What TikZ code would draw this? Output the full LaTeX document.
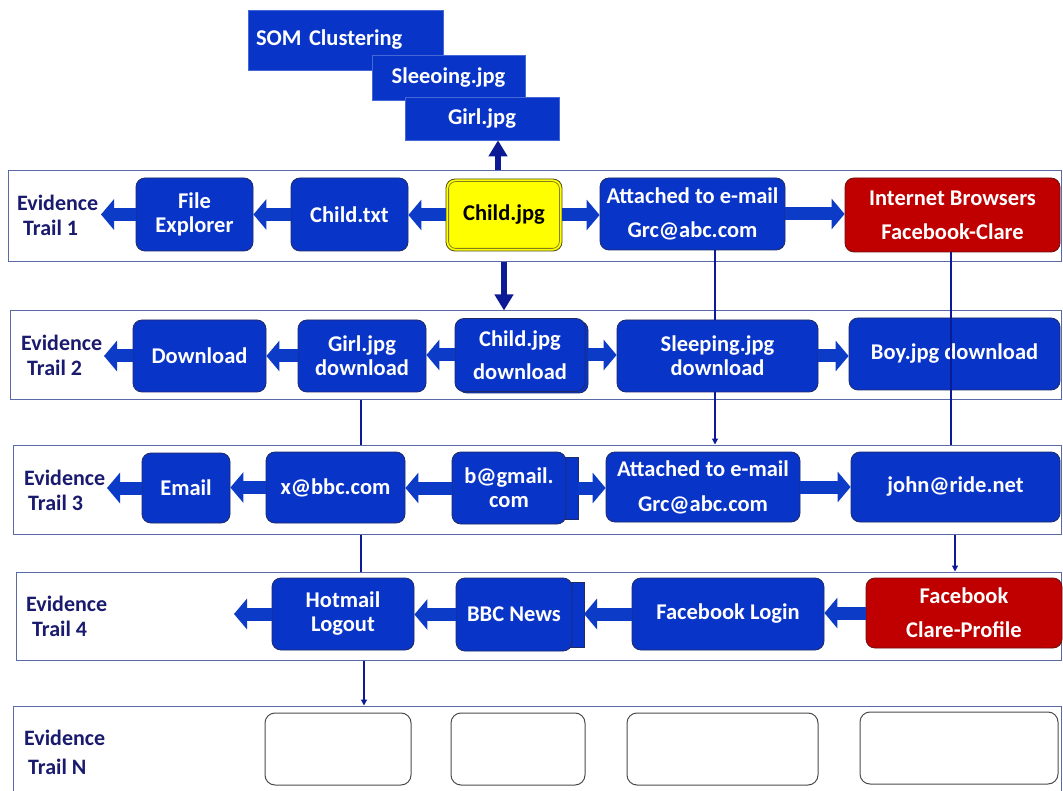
\documentclass[tikz,border=0pt]{standalone}
\usepackage{fontspec}
\setmainfont{Carlito}
\usetikzlibrary{arrows.meta}
\definecolor{boxblue}{HTML}{0934C8}
\definecolor{boxedge}{HTML}{1F2A66}
\definecolor{arrblue}{HTML}{0C3BC8}
\definecolor{navy}{HTML}{0D1A96}
\definecolor{bandedge}{HTML}{5A6AA8}
\definecolor{labnavy}{HTML}{1A1A6E}
\definecolor{boxred}{HTML}{C00000}
\definecolor{redge}{HTML}{6A1010}
\definecolor{jpgyellow}{HTML}{FFFF00}
\definecolor{jpgedge}{HTML}{4A4A20}
\tikzset{
 boxfont/.style={font=\bfseries\fontsize{22.5}{24}\selectfont},
 box/.style={draw=boxedge, line width=0.8pt, fill=boxblue, rounded corners=9pt, text=white, boxfont, align=center, inner sep=0pt},
 redbox/.style={box, fill=boxred, draw=redge},
 backbox/.style={draw=boxedge, line width=0.8pt, fill=boxblue},
 sqbox/.style={fill=boxblue, draw=boxblue!75!white, line width=0.6pt, text=white, boxfont, align=center, inner sep=0pt},
 band/.style={draw=bandedge, line width=1pt, fill=white, inner sep=0pt},
 lab/.style={text=labnavy, font=\bfseries\fontsize{22}{25}\selectfont, align=left, anchor=west, inner sep=0pt},
 blk/.style={draw=arrblue, line width=13pt, -{Triangle[length=13pt,width=30pt]}},
 nav/.style={draw=navy, line width=6pt, -{Triangle[length=16pt,width=18pt]}},
 thin/.style={draw=navy, line width=1.2pt},
 thinarr/.style={thin, -{Triangle[length=6pt,width=6pt]}},
 emptybox/.style={draw=black!70, line width=1pt, rounded corners=10pt, fill=white, inner sep=0pt}
}
\begin{document}
\begin{tikzpicture}[x=1pt,y=-1pt]
\useasboundingbox (0,0) rectangle (1063,791);
% bands
\node[band, minimum width=1053, minimum height=91] (band1) at (534.5,216.5) {};
\node[band, minimum width=1051, minimum height=89] (band2) at (535.5,355.5) {};
\node[band, minimum width=1048, minimum height=89] (band3) at (537,489.5) {};
\node[band, minimum width=1045, minimum height=88] (band4) at (538.5,616) {};
\node[band, minimum width=1048, minimum height=94] (bandN) at (537,753) {};

% top stack
\node[sqbox, minimum width=195, minimum height=60, text width=179pt, align=left] (som) at (345.5,40) {SOM Clustering};
\node[sqbox, minimum width=153, minimum height=45] (sleep) at (448.5,77.5) {Sleeoing.jpg};
\node[sqbox, minimum width=154, minimum height=43] (girl) at (482,118.5) {Girl.jpg};

% labels
\node[lab] (lab1) at (17,215.5) {Evidence\\\hspace*{6pt}Trail 1};
\node[lab] (lab2) at (21,355.5) {Evidence\\\hspace*{6pt}Trail 2};
\node[lab] (lab3) at (24,490) {Evidence\\\hspace*{4pt}Trail 3};
\node[lab] (lab4) at (26,616.5) {Evidence\\\hspace*{6pt}Trail 4};
\node[lab] (labN) at (24,752.5) {Evidence\\[4pt]\hspace*{4pt}Trail N};

% band 1
\node[box, minimum width=117, minimum height=73] (fe) at (194.5,214.5) {File\\Explorer};
\node[box, minimum width=117, minimum height=73] (ctxt) at (349.5,214.5) {Child.txt};
\node[box, fill=jpgyellow, draw=jpgedge, text=black, minimum width=116, minimum height=72] (cjpg) at (504,215) {Child.jpg};
\draw[jpgedge!70!jpgyellow, line width=0.8pt, rounded corners=7pt] ([shift={(3,3)}]cjpg.north west) rectangle ([shift={(-3,-3)}]cjpg.south east);
\node[box, minimum width=185, minimum height=72] (att1) at (692.5,214) {Attached to e-mail\\[10pt]Grc@abc.com};
\node[redbox, minimum width=215, minimum height=74] (ib) at (952.5,215) {Internet Browsers\\[10pt]Facebook-Clare};

% band 2
\node[box, minimum width=133, minimum height=72] (dl) at (199.5,356) {Download};
\node[box, minimum width=128, minimum height=72] (gdl) at (362,356) {Girl.jpg\\download};
\draw[backbox, rounded corners=9pt] (458,321) rectangle (588,393);
\node[box, minimum width=130, minimum height=73] (cdl) at (520,355) {Child.jpg\\[9pt]download};
\node[box, minimum width=201, minimum height=72] (sdl) at (717.5,356) {Sleeping.jpg\\download};
\node[box, minimum width=211, minimum height=72] (bdl) at (954.5,354) {Boy.jpg download};

% band 3
\node[box, minimum width=88, minimum height=70] (em) at (186,488) {Email};
\node[box, minimum width=139, minimum height=71] (xbbc) at (335.5,487.5) {x@bbc.com};
\draw[backbox] (462,457) rectangle (578,519);
\node[box, minimum width=114, minimum height=72] (bg) at (509,488) {b@gmail.\\com};
\node[box, minimum width=194, minimum height=70] (att3) at (703,487) {Attached to e-mail\\[11pt]Grc@abc.com};
\node[box, minimum width=209, minimum height=70] (john) at (955.5,487) {john@ride.net};

% band 4
\node[box, minimum width=142, minimum height=72] (hot) at (343,614) {Hotmail\\Logout};
\draw[backbox] (466,582) rectangle (584,647);
\node[box, minimum width=116, minimum height=73] (bbc) at (514,614.5) {BBC News};
\node[box, minimum width=192, minimum height=72] (fbl) at (728,614) {Facebook Login};
\node[redbox, minimum width=196, minimum height=70] (fbc) at (964,613) {Facebook\\[10pt]Clare-Profile};

% band N
\node[emptybox, minimum width=146, minimum height=72] (e1) at (338,749) {};
\node[emptybox, minimum width=134, minimum height=72] (e2) at (518,749) {};
\node[emptybox, minimum width=191, minimum height=72] (e3) at (722.5,749) {};
\node[emptybox, minimum width=198, minimum height=72] (e4) at (959,748) {};

% coordinates
\coordinate (t1) at (101,214.5);
\coordinate (t2) at (104,356);
\coordinate (t3) at (107,488);
\coordinate (t4) at (234,614);
\coordinate (xA) at (715,0);
\coordinate (xB) at (951,0);
\coordinate (xC) at (955,0);
\coordinate (xD) at (361,0);
\coordinate (xE) at (364,0);
\coordinate (xU) at (498,0);

% block arrows band 1
\draw[blk] (cjpg.west) -- (cjpg.west -| ctxt.east);
\draw[blk] (ctxt.west) -- (ctxt.west -| fe.east);
\draw[blk] (fe.west) -- (t1);
\draw[blk] (cjpg.east) -- (cjpg.east -| att1.west);
\draw[blk] (att1.east) -- (att1.east -| ib.west);
% band 2
\draw[blk] (cdl.west) -- (cdl.west -| gdl.east);
\draw[blk] (gdl.west) -- (gdl.west -| dl.east);
\draw[blk] (dl.west) -- (t2);
\draw[blk] (cdl.east -| 588,0) -- (cdl.east -| sdl.west);
\draw[blk] (sdl.east) -- (sdl.east -| bdl.west);
% band 3
\draw[blk] (bg.west) -- (bg.west -| xbbc.east);
\draw[blk] (xbbc.west) -- (xbbc.west -| em.east);
\draw[blk] (em.west) -- (t3);
\draw[blk] (bg.east -| 578,0) -- (bg.east -| att3.west);
\draw[blk] (att3.east) -- (att3.east -| john.west);
% band 4
\draw[blk] (fbc.west) -- (fbc.west -| fbl.east);
\draw[blk] (fbl.west) -- (fbl.west -| 584,0);
\draw[blk] (bbc.west) -- (bbc.west -| hot.east);
\draw[blk] (hot.west) -- (t4);

% navy arrows
\draw[nav] (band1.north -| xU) -- (girl.south -| xU);
\draw[nav] (band1.south -| cjpg.south) -- (band2.north -| cjpg.south);

% thin connectors
\draw[thin] (att1.south -| xA) -- (sdl.north -| xA);
\draw[thinarr] (sdl.south -| xA) -- (band3.north -| xA);
\draw[thin] (ib.south -| xB) -- (band3.north -| xB);
\draw[thinarr] (band3.south -| xC) -- (band4.north -| xC);
\draw[thin] (band2.south -| xD) -- (band3.north -| xD);
\draw[thin] (band3.south -| xD) -- (band4.north -| xD);
\draw[thinarr] (band4.south -| xE) -- (bandN.north -| xE);
\end{tikzpicture}
\end{document}
